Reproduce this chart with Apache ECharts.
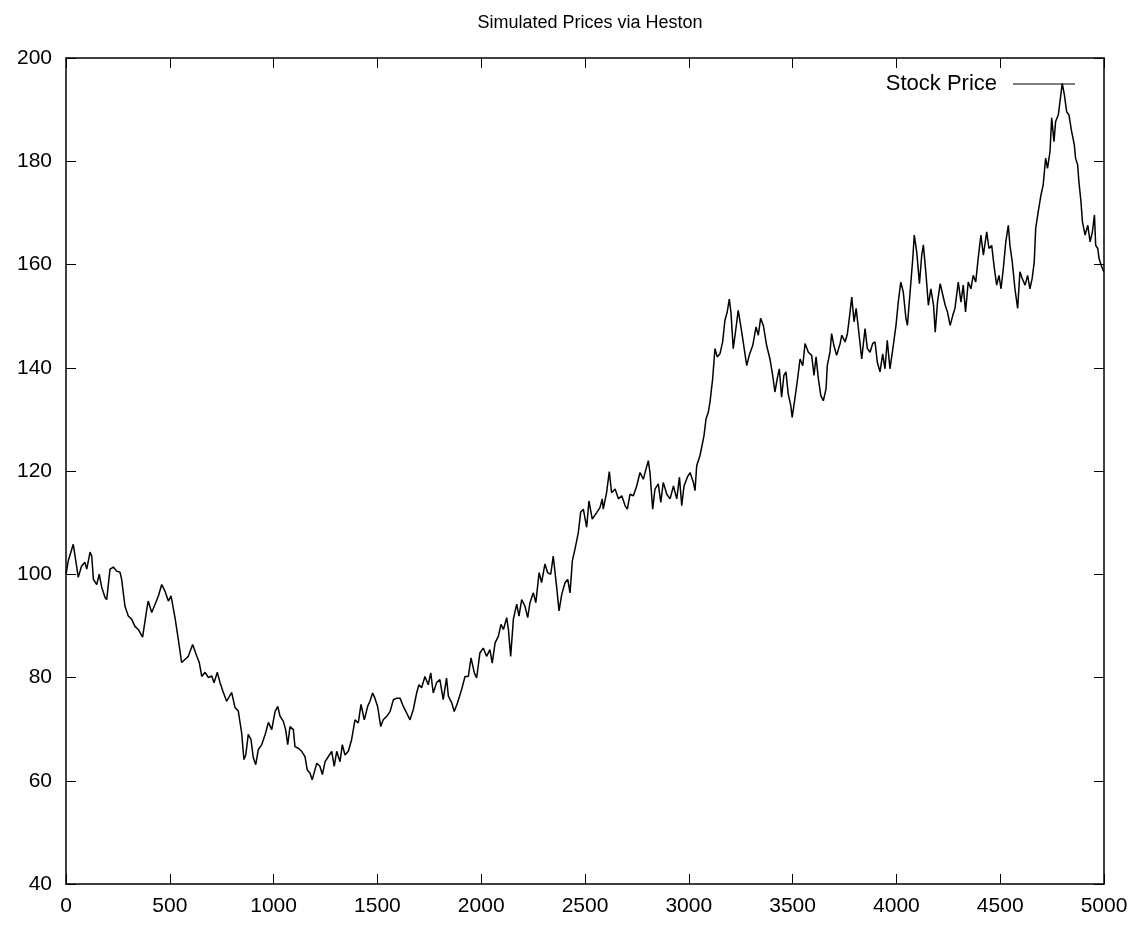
<!DOCTYPE html>
<html>
<head>
<meta charset="utf-8">
<script src="https://cdn.jsdelivr.net/npm/echarts@6/dist/echarts.min.js"></script>
<style>
html,body{margin:0;padding:0;background:#fff;}
#chart{width:1148px;height:928px;}
</style>
</head>
<body>
<div id="chart"></div>
<script>
var titleText = 'Simulated Prices via Heston';
var seriesName = 'Stock Price';
var xTicks = {min: 0, max: 5000, interval: 500};
var yTicks = {min: 40, max: 200, interval: 20};

var steps = [0,11,35,51,59,75,91,100,116,124,132,148,160,172,188,196,212,228,244,260,268,284,300,316,332,348,369,389,396,413,429,445,461,477,493,506,525,541,557,573,589,610,630,642,654,670,686,702,713,729,742,758,774,798,814,830,846,857,
866,878,891,902,914,926,943,959,975,991,1007,1020,1031,1047,1058,1068,1079,1095,1103,1119,1135,1151,1162,1175,1186,1199,1208,1223,1235,1248,1264,1280,1292,1304,1320,1331,1344,1360,1376,1392,1408,1421,1437,1453,1464,1477,1488,1501,1516,1528,1545,1561,1577,1593,1609,1625,1641,1657,1673,1689,1700,
1713,1729,1745,1757,1769,1785,1801,1817,1833,1842,1858,1870,1886,1906,1922,1938,1951,1967,1978,1994,2010,2026,2042,2053,2067,2083,2095,2107,2123,2131,2142,2155,2171,2182,2195,2211,2224,2235,2251,2263,2279,2291,2307,2320,2335,2347,2363,2375,2388,2404,2417,2428,2439,2452,2468,2479,2492,2508,2519,2535,2557,2572,2583,
2588,2604,2617,2628,2645,2661,2677,2693,2704,2717,2733,2749,2765,2781,2794,2805,2813,2826,2837,2853,2865,2877,2894,2910,2926,2942,2955,2966,2977,2993,3006,3022,3030,3038,3054,3062,3073,3083,3094,3102,3115,3126,3137,3150,3163,3174,3185,3195,3203,3214,3227,3238,3250,3262,3279,3291,3308,3324,3335,3346,3359,3375,3391,3404,3415,3426,3436,3447,3458,3468,3479,3491,3498,
3511,3522,3536,3549,3560,3576,3592,3603,3613,3624,3636,3648,3661,3667,3680,3688,3699,3712,3729,3737,3753,3764,3773,3785,3796,3806,3817,3833,3849,3860,3873,3886,3897,3908,3921,3934,3945,3956,3969,3985,3998,4009,4021,4033,4046,4053,4066,4079,4086,4098,4111,4122,4130,4143,4154,4166,4179,4187,4198,4211,4224,4235,4246,4259,4272,
4282,4298,4311,4322,4333,4346,4359,4370,4382,4394,4407,4419,4435,4446,4459,4472,4483,4494,4504,4515,4527,4539,4547,4558,4571,4584,4595,4606,4620,4632,4643,4654,4664,4671,4683,4696,4707,4719,4728,4740,4748,4759,4767,4780,4788,4799,4809,4820,4831,4844,4857,4863,4873,4879,4889,4896,4909,4922,4933,4944,4954,4960,4970,4976,4986,4999];

var prices = [100,102.6,105.8,101.6,99.4,101.6,102.3,101,104.3,103.5,99,98,100,97.5,95.5,95.1,101,101.4,100.6,100.4,99,93.8,91.9,91.3,89.9,89.3,87.8,93.2,94.8,92.6,94.2,95.8,98,96.7,94.8,95.8,91.6,87.4,82.9,83.5,84.1,86.4,84.1,82.9,80.2,81,80,80.3,79,81,79,77.1,75.4,77.1,74.2,73.5,69.3,64.1,
65,69,68,64.5,63.1,66,67,68.9,71.3,69.9,73.4,74.4,72.5,71.5,69.9,67,70.5,69.9,66.6,66.3,65.7,64.7,62.1,61.5,60.2,62.1,63.4,62.8,61.2,63.7,64.7,65.7,62.8,65.7,63.7,67,65,65.7,68,71.8,71.2,74.8,71.8,74.4,75.4,77,76,74.4,70.5,71.8,72.5,73.4,75.7,76,76,74.4,73.1,71.8,73.8,77,78.6,
78,80.2,78.6,80.9,77,79,79.6,75.7,79.9,76.4,75.1,73.4,75.1,77.7,80.2,80.2,83.8,80.9,79.9,84.8,85.7,84.1,85.4,82.8,86.7,88,90.3,89.3,91.6,89.3,84.1,91.3,94.2,91.9,95.1,93.8,91.6,94.5,96.4,94.5,100.3,98.4,102,100.3,100,103.5,97.7,92.9,96.1,98.4,99,96.4,102.6,104.9,108.1,112,112.6,109.1,114.2,110.7,112,112.9,114.6,
112.6,115.8,119.9,115.8,116.5,114.6,115.2,113.3,112.6,115.5,115.2,117.1,119.7,118.4,120.4,122,119.7,112.6,116.5,117.5,113.9,117.8,115.5,114.6,117.1,114.6,118.8,113.3,117.1,118.8,119.7,117.8,116.2,121,123,124.6,126.8,130.1,131.4,133.3,137.9,143.7,142.1,142.7,145,149.2,150.8,153.3,150.8,143.7,147.6,151.1,148.2,145,140.4,142.4,144.3,147.9,146.3,149.6,148.2,144.3,141.7,138.5,135.3,137.9,139.8,134.3,138.5,139.2,134.9,132.7,130.4,
134,137.2,141.7,140.4,144.7,143,142.4,138.5,142.1,137.9,134.6,133.6,135.9,140.4,143,146.6,144.3,142.4,144.7,146.3,145,146.6,149.5,153.7,148.9,151.5,147.6,141.7,147.6,143.7,143,144.7,145,141.1,139.2,142.7,139.8,145.3,139.8,144.3,148.2,152.7,156.6,154.7,149.5,148.2,154.7,161.2,165.7,162.4,156.3,161.8,163.8,157.9,152.1,155.3,152.1,146.9,152.7,156.3,154,152.1,150.8,148.2,150.2,
151.5,156.6,152.7,156,150.8,156.6,155.3,157.9,156.6,161.2,165.7,161.8,166.3,163.1,163.7,159.2,156,157.9,155.3,159.2,164.4,167.6,163.7,160.5,155.3,151.5,158.6,157.3,156,157.9,155.3,157.3,160.5,167,170.2,173.4,175.4,180.6,178.6,181.9,188.4,183.8,187.7,189,191.6,195.1,192.9,189.6,189,185.8,183.2,180.6,179.3,176.1,172.2,168.3,165.7,167.6,164.4,166.3,169.6,163.7,163.1,161.2,159.9,158.6];

var seriesData = steps.map(function (s, i) { return [s, prices[i]]; });

var fontFam = '"Liberation Sans", Arial, sans-serif';
function axisLine() { return {show: true, onZero: false, lineStyle: {color: '#000', width: 1.5}}; }
function tick() { return {show: true, inside: true, length: 10, lineStyle: {color: '#000', width: 1}}; }
function plain(v) { return String(v); }

var chart = echarts.init(document.getElementById('chart'), null, {renderer: 'canvas'});
chart.setOption({
  backgroundColor: '#fff',
  animation: false,
  title: {
    text: titleText, left: 585, top: 9, textAlign: 'center',
    textStyle: {fontFamily: fontFam, fontSize: 18, fontWeight: 'normal', color: '#000'}
  },
  legend: {
    data: [seriesName], right: 68, top: 68, align: 'right',
    itemWidth: 62, itemHeight: 14, itemGap: 0,
    textStyle: {fontFamily: fontFam, fontSize: 22, color: '#000', padding: [0, 11, 0, 0]},
    icon: 'path://M0,50 L100,50 L100,52 L0,52 Z'
  },
  grid: {left: 66, right: 44, top: 58, bottom: 44, containLabel: false},
  xAxis: [
    {type: 'value', position: 'bottom', min: xTicks.min, max: xTicks.max, interval: xTicks.interval,
     axisLine: axisLine(), axisTick: tick(), splitLine: {show: false},
     axisLabel: {fontFamily: fontFam, fontSize: 21, color: '#000', margin: 12, formatter: plain}},
    {type: 'value', position: 'top', min: xTicks.min, max: xTicks.max, interval: xTicks.interval,
     axisLine: axisLine(), axisTick: tick(), splitLine: {show: false}, axisLabel: {show: false}}
  ],
  yAxis: [
    {type: 'value', position: 'left', min: yTicks.min, max: yTicks.max, interval: yTicks.interval,
     axisLine: axisLine(), axisTick: tick(), splitLine: {show: false},
     axisLabel: {fontFamily: fontFam, fontSize: 21, color: '#000', margin: 14, formatter: plain}},
    {type: 'value', position: 'right', min: yTicks.min, max: yTicks.max, interval: yTicks.interval,
     axisLine: axisLine(), axisTick: tick(), splitLine: {show: false}, axisLabel: {show: false}}
  ],
  series: [{
    name: seriesName, type: 'line', xAxisIndex: 0, yAxisIndex: 0,
    data: seriesData, symbol: 'none', showSymbol: false,
    lineStyle: {color: '#000', width: 1.5}, itemStyle: {color: '#000'}
  }]
});
</script>
</body>
</html>
